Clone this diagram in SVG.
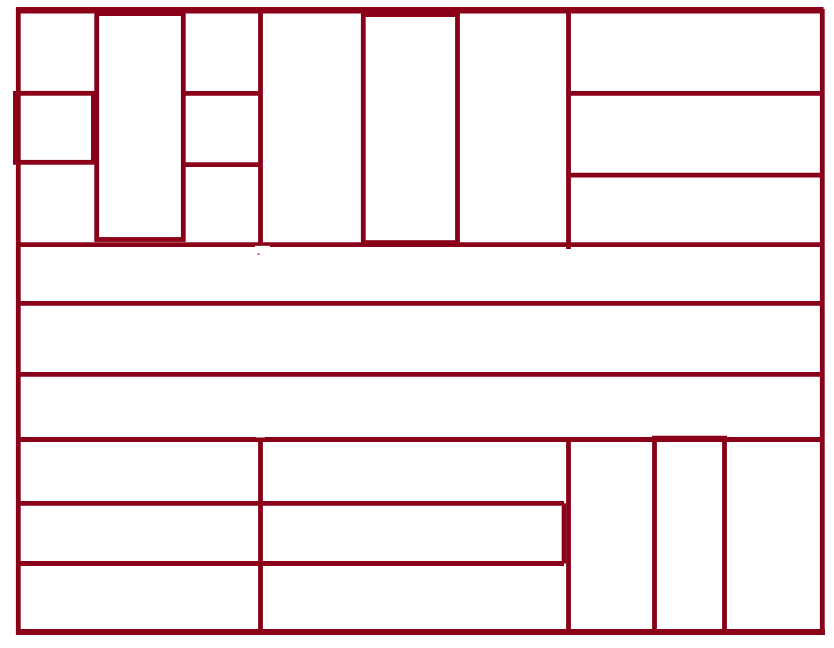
<svg xmlns="http://www.w3.org/2000/svg" width="834" height="648" viewBox="0 0 834 648">
  <style>
    .w { stroke: #8a0019; stroke-width: 4.8; fill: none; stroke-linecap: butt; }
    .bg { fill: #ffffff; }
  </style>
  <rect class="bg" x="0" y="0" width="834" height="648"/>
  <g id="outer">
    <line class="w" x1="16" y1="10.3" x2="823.5" y2="10.3" style="stroke-width:6.6"/>
    <line class="w" x1="18.3" y1="7" x2="18.3" y2="635"/>
    <line class="w" x1="822.3" y1="9" x2="822.3" y2="635"/>
    <line class="w" x1="16" y1="632" x2="825" y2="632" style="stroke-width:6"/>
  </g>
  <g id="bands">
    <line class="w" x1="16" y1="244.7" x2="822" y2="244.7"/>
    <line class="w" x1="16" y1="303.3" x2="822" y2="303.3"/>
    <line class="w" x1="16" y1="374.3" x2="822" y2="374.3"/>
    <line class="w" x1="16" y1="439.5" x2="822" y2="439.5"/>
    <rect class="bg" x="255" y="245.8" width="15" height="2"/>
    <rect x="257.5" y="253.5" width="2" height="1.2" fill="#8a0019"/>
    <rect class="bg" x="256" y="436" width="9" height="1.5"/>
  </g>
  <g id="top-left">
    <rect class="w" x="15.4" y="93.3" width="78" height="69"/>
    <rect class="w" x="96.7" y="13.6" width="86.6" height="225.9"/>
    <line class="w" x1="183" y1="93.3" x2="260.5" y2="93.3"/>
    <line class="w" x1="183" y1="164.7" x2="260.5" y2="164.7"/>
    <line class="w" x1="260.5" y1="10" x2="260.5" y2="244.7"/>
  </g>
  <g id="top-middle">
    <rect class="w" x="363.3" y="14.6" width="94.2" height="228"/>
    <line class="w" x1="568.5" y1="10" x2="568.5" y2="249"/>
  </g>
  <g id="top-right">
    <line class="w" x1="568.5" y1="93.3" x2="822" y2="93.3"/>
    <line class="w" x1="568.5" y1="175.2" x2="822" y2="175.2"/>
  </g>
  <g id="bottom-left">
    <line class="w" x1="260.5" y1="439.5" x2="260.5" y2="632"/>
    <line class="w" x1="16" y1="503.3" x2="564" y2="503.3"/>
    <line class="w" x1="16" y1="563.5" x2="564" y2="563.5"/>
    <line class="w" x1="563.9" y1="503.3" x2="563.9" y2="563.5" style="stroke-width:4.4"/>
  </g>
  <g id="bottom-right">
    <line class="w" x1="568.5" y1="439.5" x2="568.5" y2="632"/>
    <line class="w" x1="652" y1="438.8" x2="727" y2="438.8" style="stroke-width:6.3"/>
    <line class="w" x1="654.5" y1="436" x2="654.5" y2="632"/>
    <line class="w" x1="724.5" y1="436" x2="724.5" y2="632"/>
  </g>
</svg>
